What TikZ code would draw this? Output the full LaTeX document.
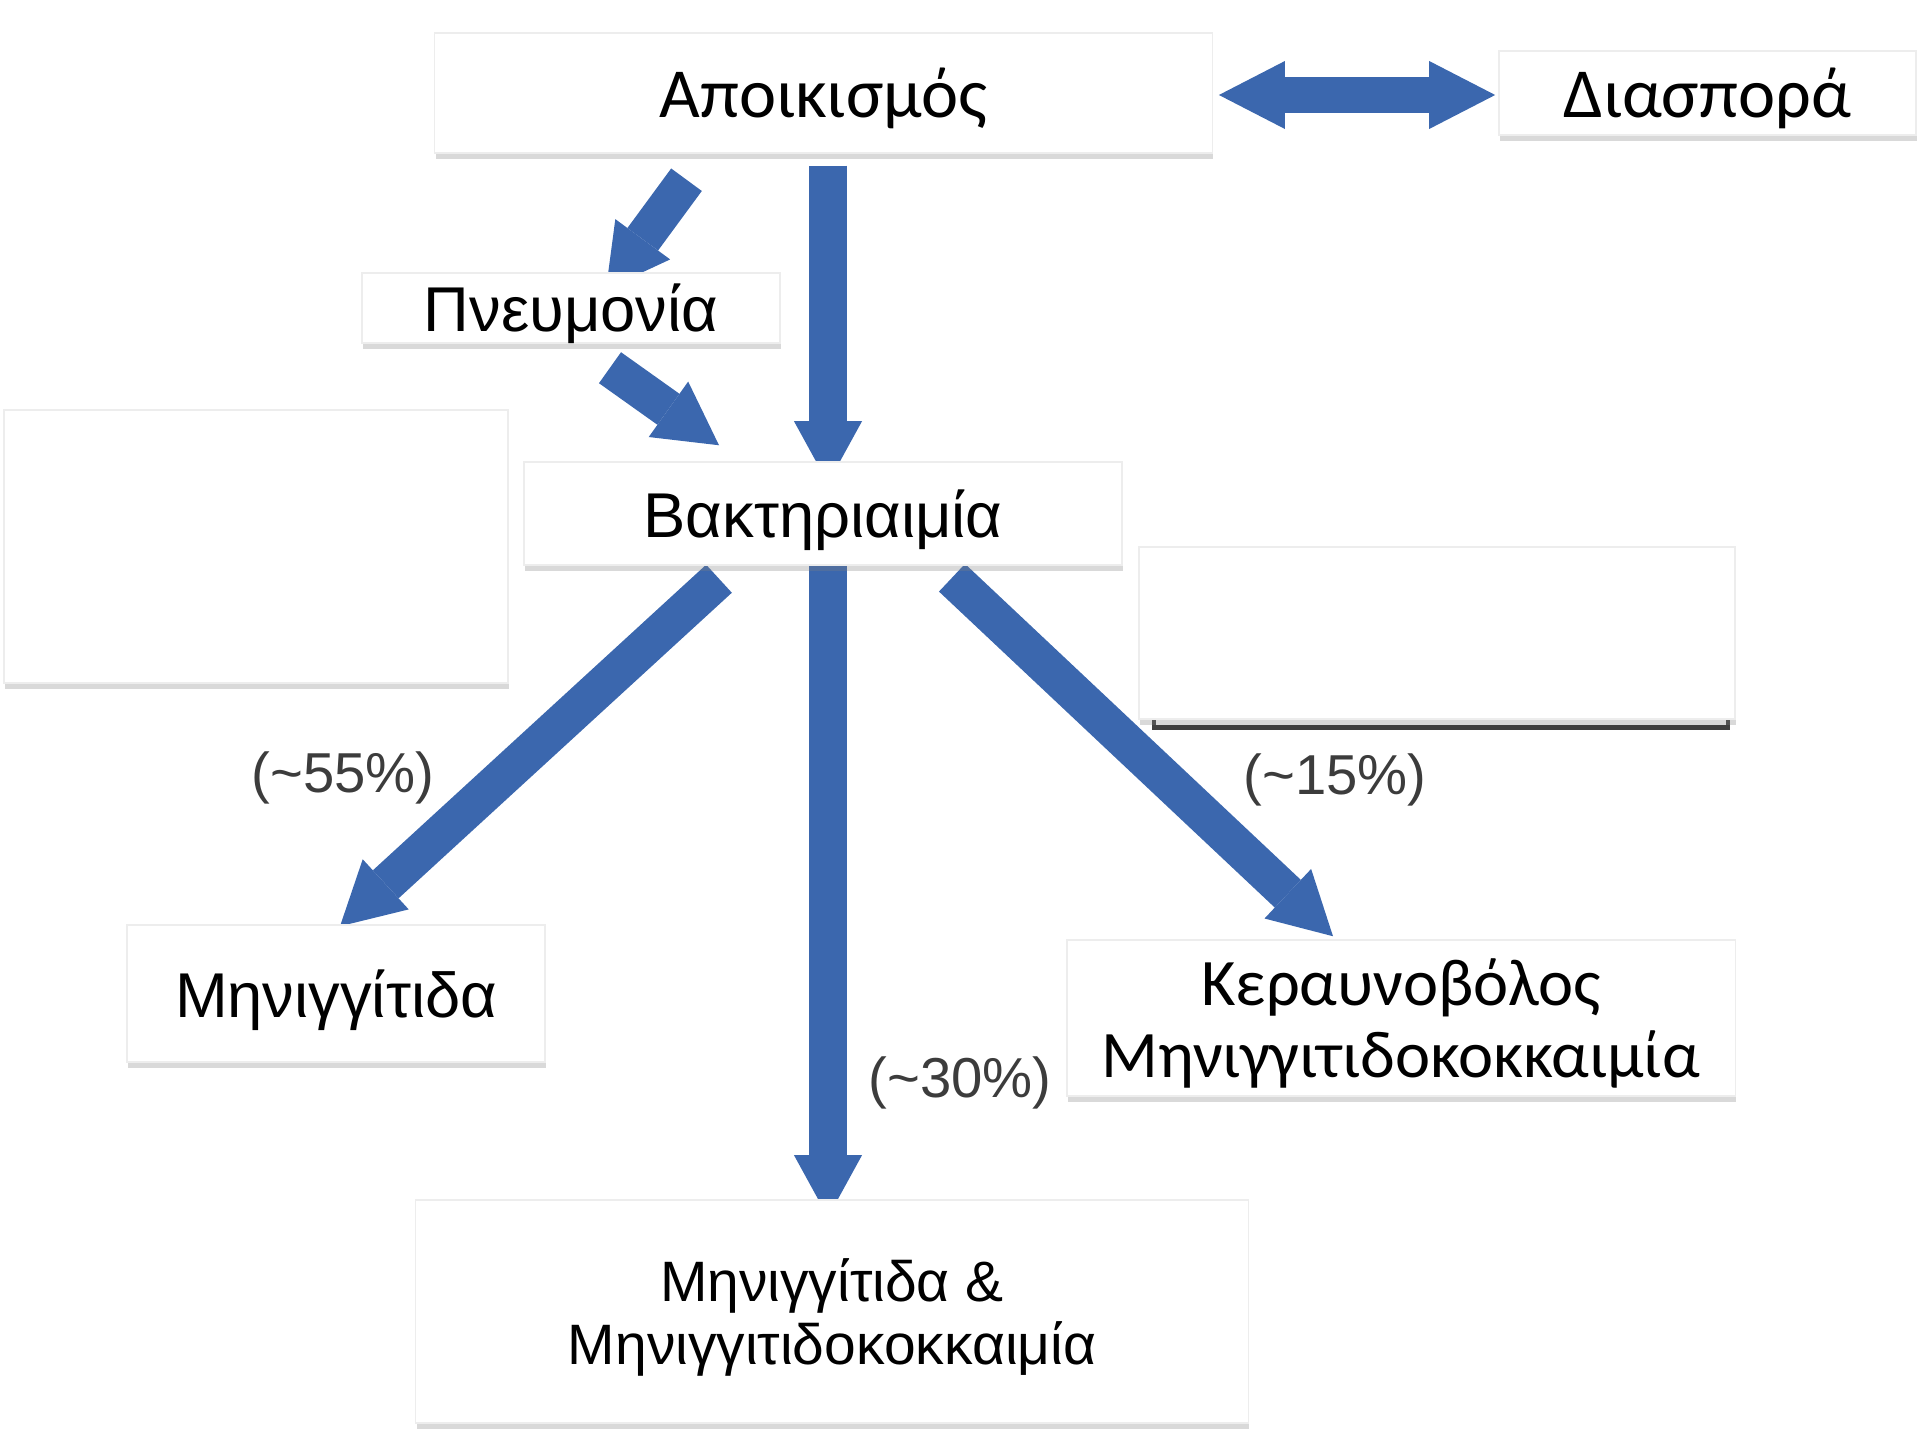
\documentclass[tikz,border=0pt]{standalone}
\usepackage{fontspec}
\setmainfont{Liberation Sans}
\newfontfamily\calfont{Carlito}
\usetikzlibrary{arrows.meta,shadows}
\definecolor{arrowblue}{RGB}{59,103,174}
\definecolor{pctgray}{RGB}{60,60,60}
\pgfdeclarelayer{bg}
\pgfsetlayers{bg,main}
\tikzset{
  box/.style={fill=white, draw=black!7, line width=0.4pt, inner sep=0pt, text depth=0pt,
    drop shadow={shadow xshift=0.3pt, shadow yshift=-1.8pt, opacity=0.3}},
  calbox/.style={box, font=\calfont\fontsize{20}{24}\selectfont},
  arialbox/.style={box, font=\fontsize{18}{21}\selectfont},
  blockarrow/.style={arrowblue, line width=0.38cm, -{Triangle[length=0.62cm, width=0.68cm, line width=0pt]}},
  pct/.style={text=pctgray, font=\fontsize{16}{18}\selectfont},
}
\begin{document}
\begin{tikzpicture}[x=0.01cm, y=-0.01cm]
\useasboundingbox (0,0) rectangle (1920,1440);

% boxes
\node[calbox, minimum width=7.77cm, minimum height=1.20cm] (apo) at (823.5,93) {Αποικισμός};
\node[calbox, minimum width=4.17cm, minimum height=0.84cm] (dia) at (1707.5,93) {Διασπορά};
\node[arialbox, minimum width=4.18cm, minimum height=0.70cm] (pneu) at (571,308) {Πνευμονία};
\node[box, minimum width=5.04cm, minimum height=2.73cm] (blankL) at (256,546.5) {};
\node[arialbox, minimum width=5.98cm, minimum height=1.03cm] (bak) at (823,513.5) {Βακτηριαιμία};
\node[box, minimum width=5.96cm, minimum height=1.72cm] (blankR) at (1437,633) {};
\node[arialbox, minimum width=4.18cm, minimum height=1.37cm] (men) at (336,993.5) {Μηνιγγίτιδα};
\node[box, align=center, font=\calfont\fontsize{18.9}{20.5}\selectfont, minimum width=6.68cm, minimum height=1.56cm] (ker) at (1401,1018) {Κεραυνοβόλος\\Μηνιγγιτιδοκοκκαιμία};
\node[box, align=center, font=\fontsize{16.2}{18}\selectfont, minimum width=8.32cm, minimum height=2.23cm] (both) at (832,1311.5) {Μηνιγγίτιδα \&\\Μηνιγγιτιδοκοκκαιμία};

% percentages
\node[pct] (p55) at (343,778) {(\textasciitilde55\%)};
\node[pct] (p15) at (1335,780) {(\textasciitilde15\%)};
\node[pct] (p30) at (960,1083) {(\textasciitilde30\%)};

\begin{pgfonlayer}{bg}
% frame peeking out under the right blank box
\draw[black!75, line width=1.3pt] ([shift={(16,-8)}]blankR.south west) |- ([shift={(-8,8)}]blankR.south east) -- ++(0,-16);

\draw[arrowblue, line width=0.35cm, {Triangle[length=0.66cm, width=0.68cm, line width=0pt]}-{Triangle[length=0.66cm, width=0.68cm, line width=0pt]}] ([shift={(6,2)}]apo.east) -- ([shift={(-3,2)}]dia.west);

\draw[blockarrow] ([shift={(-137,26)}]apo.south) -- ([shift={(35,17)}]pneu.north);
\draw[blockarrow] ([shift={(39,24)}]pneu.south) -- ([shift={(-104,-16)}]bak.north);
\draw[blockarrow] ([shift={(4.5,12)}]apo.south) -- ([shift={(5,22)}]bak.north);

\draw[blockarrow] ([shift={(-104,13)}]bak.south) -- ([shift={(4,2)}]men.north);
\draw[blockarrow] ([shift={(5,0)}]bak.south) -- ([shift={(-4,18)}]both.north);
\draw[blockarrow] ([shift={(129,12)}]bak.south) -- ([shift={(-68,-3)}]ker.north);
\end{pgfonlayer}

\end{tikzpicture}
\end{document}
